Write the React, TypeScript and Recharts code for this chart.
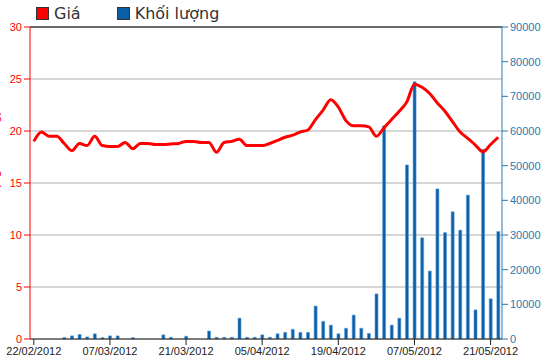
import React from 'react';
import { ComposedChart, Bar, Line, XAxis, YAxis, CartesianGrid, ReferenceLine } from 'recharts';

const dates = [
  '22/02/2012', '23/02/2012', '24/02/2012', '27/02/2012', '28/02/2012', '29/02/2012', '01/03/2012', '02/03/2012', '05/03/2012', '06/03/2012',
  '07/03/2012', '08/03/2012', '09/03/2012', '12/03/2012', '13/03/2012', '14/03/2012', '15/03/2012', '16/03/2012', '19/03/2012', '20/03/2012',
  '21/03/2012', '22/03/2012', '23/03/2012', '26/03/2012', '27/03/2012', '28/03/2012', '29/03/2012', '30/03/2012', '03/04/2012', '04/04/2012',
  '05/04/2012', '06/04/2012', '09/04/2012', '10/04/2012', '11/04/2012', '12/04/2012', '13/04/2012', '16/04/2012', '17/04/2012', '18/04/2012',
  '19/04/2012', '20/04/2012', '23/04/2012', '24/04/2012', '25/04/2012', '26/04/2012', '27/04/2012', '02/05/2012', '03/05/2012', '04/05/2012',
  '07/05/2012', '08/05/2012', '09/05/2012', '10/05/2012', '11/05/2012', '14/05/2012', '15/05/2012', '16/05/2012', '17/05/2012', '18/05/2012',
  '21/05/2012', '22/05/2012',
];

const price = [
  19.0, 19.9, 19.5, 19.5, 18.8, 18.1, 18.8, 18.6, 19.5, 18.6,
  18.5, 18.5, 18.9, 18.3, 18.8, 18.8, 18.7, 18.7, 18.75, 18.8,
  19.0, 19.0, 18.9, 18.9, 17.95, 18.9, 19.0, 19.2, 18.6, 18.6,
  18.6, 18.8, 19.1, 19.4, 19.6, 19.9, 20.1, 21.1, 22.0, 23.0,
  22.3, 21.0, 20.5, 20.5, 20.4, 19.5, 20.3, 21.1, 21.9, 22.8,
  24.5, 24.2, 23.6, 22.7, 21.9, 20.9, 19.9, 19.3, 18.65, 18.0,
  18.7, 19.4,
];

const volume = [
  0, 0, 0, 0, 400, 900, 1300, 600, 1500, 400,
  900, 900, 0, 400, 0, 0, 0, 1200, 500, 0,
  800, 0, 0, 2300, 500, 500, 500, 6000, 500, 500,
  1200, 500, 1500, 1900, 2800, 1900, 1900, 9500, 5100, 4000,
  1500, 3100, 6900, 3100, 1600, 13000, 61500, 4000, 6000, 50200,
  74200, 29200, 19600, 43300, 30700, 36700, 31400, 41500, 8400, 54700,
  11600, 31000,
];

const priceTicks = [0, 5, 10, 15, 20, 25, 30];
const volumeTicks = [0, 10000, 20000, 30000, 40000, 50000, 60000, 70000, 80000, 90000];

const RED = '#ff0000';
const BLUE = '#0a5ea8';
const AXIS_BLUE = '#2a78b0';
const FONT = '"Liberation Sans", Arial, sans-serif';

const data = dates.map((d, i) => ({ date: d, price: price[i], volume: volume[i] }));

const LegendBox = () => (
  <div style={{ position: 'absolute', left: 36, top: 4, display: 'flex', alignItems: 'center', fontFamily: '"DejaVu Sans", sans-serif', fontSize: 16, color: '#333', zIndex: 2 }}>
    <div style={{ width: 11, height: 11, background: RED, border: '1px solid #333', marginRight: 5 }} />
    <span style={{ marginRight: 36 }}>Giá</span>
    <div style={{ width: 11, height: 11, background: BLUE, border: '1px solid #333', marginRight: 5 }} />
    <span>Khối lượng</span>
  </div>
);

const SideLabel = (props: any) => {
  const { viewBox } = props;
  const cy = viewBox.y + viewBox.height / 2 - 20;
  return (
    <text x={-2} y={cy} transform={`rotate(-90, -2, ${cy})`} textAnchor="middle" fill={RED} fontSize={14} fontFamily={FONT}>
      Giá (nghìn đồng)
    </text>
  );
};

export default function App() {
  return (
    <div style={{ position: 'absolute', left: 0, top: 0, width: 550, height: 364, background: '#fff' }}>
      <LegendBox />
      <ComposedChart width={550} height={364} data={data} margin={{ top: 27, right: 0, bottom: 3, left: 0 }} barCategoryGap="32%">
        <CartesianGrid vertical={false} stroke="#c8c8c8" strokeWidth={1.5} yAxisId="left" />
        <XAxis
          dataKey="date"
          interval={9}
          stroke="#222"
          tickLine={{ stroke: '#222' }}
          tick={{ fill: '#222', fontSize: 11, fontFamily: FONT }}
          height={22}
        />
        <YAxis
          yAxisId="left"
          domain={[0, 30]}
          ticks={priceTicks}
          width={30}
          stroke={RED}
          tick={{ fill: RED, fontSize: 11, fontFamily: FONT }}
          label={<SideLabel />}
        />
        <YAxis
          yAxisId="right"
          orientation="right"
          domain={[0, 90000]}
          ticks={volumeTicks}
          width={48}
          stroke={AXIS_BLUE}
          tick={{ fill: AXIS_BLUE, fontSize: 11, fontFamily: FONT }}
        />
        <ReferenceLine yAxisId="left" y={30} stroke="#444" strokeWidth={1.5} />
        <Bar yAxisId="right" dataKey="volume" fill={BLUE} stroke="#5d9fd8" strokeWidth={0.6} isAnimationActive={false} />
        <Line
          yAxisId="left"
          dataKey="price"
          type="monotone"
          stroke={RED}
          strokeWidth={3}
          dot={false}
          isAnimationActive={false}
        />
      </ComposedChart>
    </div>
  );
}
